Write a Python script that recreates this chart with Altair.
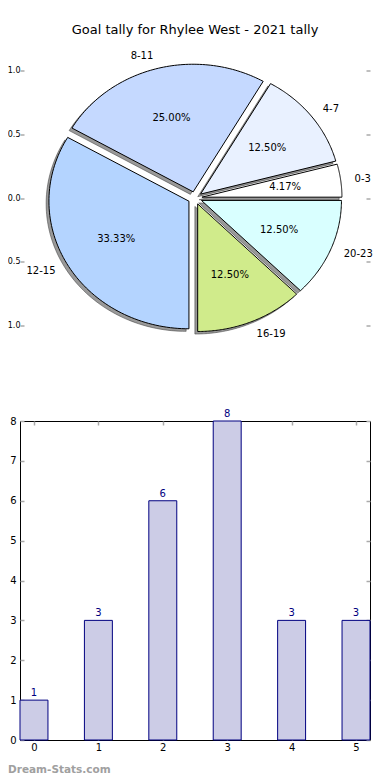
import altair as alt
import pandas as pd

# ---------------- data ----------------
ranges = ["0-3", "4-7", "8-11", "12-15", "16-19", "20-23"]
tally = [1, 3, 6, 8, 3, 3]
bar_x = [0, 1, 2, 3, 4, 5]
bar_y = [1, 3, 6, 8, 3, 3]
slice_colors = ["#ffffff", "#e9f1ff", "#c5d9ff", "#b4d4ff", "#d0eb8b", "#d9ffff"]
pie_ticks = [-1.0, -0.5, 0.0, 0.5, 1.0]
bar_yticks = [0, 1, 2, 3, 4, 5, 6, 7, 8]
chart_title = "Goal tally for Rhylee West - 2021 tally"
watermark = "Dream-Stats.com"

# ---------------- style constants ----------------
FONT = "DejaVu Sans"
EXPLODE = 0.05
SHADOW = 0.02
NPTS = 80
HALF_BAR = 0.217
W, H = 350, 319
TICK = "#aaaaaa"

pie_df = pd.DataFrame({"range": ranges, "count": tally, "idx": list(range(len(ranges)))})
bar_df = pd.DataFrame({"x": bar_x, "y": bar_y})

xs = alt.Scale(domain=[-1.25, 1.25], nice=False, zero=False)
ys = alt.Scale(domain=[-1.25, 1.25], nice=False, zero=False)
fill_scale = alt.Scale(domain=ranges, range=slice_colors)

base = (
    alt.Chart(pie_df)
    .transform_joinaggregate(total="sum(count)")
    .transform_window(cum="sum(count)", sort=[alt.SortField("idx")], frame=[None, 0])
    .transform_calculate(
        a0="2*PI*(datum.cum - datum.count)/datum.total",
        a1="2*PI*datum.cum/datum.total",
    )
    .transform_calculate(
        am="(datum.a0 + datum.a1)/2",
        pct="format(100*datum.count/datum.total, '.2f') + '%'",
    )
    .transform_calculate(
        ox=f"{EXPLODE}*cos(datum.am)",
        oy=f"{EXPLODE}*sin(datum.am)",
    )
)

outline = (
    base.transform_calculate(k=f"sequence(0, {NPTS + 2})")
    .transform_flatten(["k"])
    .transform_calculate(
        t=f"(datum.k - 1)/({NPTS} - 1)",
        edge=f"datum.k >= 1 && datum.k <= {NPTS} ? 1 : 0",
    )
    .transform_calculate(ang="datum.a0 + (datum.a1 - datum.a0)*datum.t")
    .transform_calculate(
        px="datum.ox + datum.edge*cos(datum.ang)",
        py="datum.oy + datum.edge*sin(datum.ang)",
        sx=f"datum.ox + datum.edge*cos(datum.ang) - {SHADOW}",
        sy=f"datum.oy + datum.edge*sin(datum.ang) - {SHADOW}",
    )
)

shadow = outline.mark_line(
    fill="#333333", fillOpacity=0.5, stroke="#333333", strokeOpacity=0.5,
    strokeWidth=1, interpolate="linear",
).encode(
    x=alt.X("sx:Q", scale=xs, axis=None),
    y=alt.Y("sy:Q", scale=ys, axis=alt.Axis(
        orient="right", values=pie_ticks, labels=False, ticks=True, tickSize=4,
        offset=-4, domain=False, grid=False, title=None, tickColor=TICK, tickWidth=1.5)),
    order="k:Q",
    detail="range:N",
)

wedges = outline.mark_line(stroke="black", strokeWidth=1, interpolate="linear").encode(
    x=alt.X("px:Q", scale=xs, axis=None),
    y=alt.Y("py:Q", scale=ys, axis=alt.Axis(
        orient="left", values=pie_ticks, labelExpr="format(abs(datum.value), '.1f')",
        tickSize=4, offset=-4, labelPadding=0, labelFontSize=8, labelColor="black",
        domain=False, grid=False, title=None, tickColor=TICK, tickWidth=1.5)),
    order="k:Q",
    detail="range:N",
    fill=alt.Fill("range:N", scale=fill_scale, legend=None),
)

pct_text = base.transform_calculate(
    tx="datum.ox + 0.6*cos(datum.am)", ty="datum.oy + 0.6*sin(datum.am)"
).mark_text(fontSize=10, font=FONT, color="black", align="center", baseline="middle").encode(
    x=alt.X("tx:Q", scale=xs, axis=None),
    y=alt.Y("ty:Q", scale=ys, axis=None),
    text="pct:N",
)

lbl = base.transform_calculate(
    lx="datum.ox + 1.1*cos(datum.am)", ly="datum.oy + 1.1*sin(datum.am)"
)
lbl_right = lbl.transform_filter("datum.lx > 0").mark_text(
    fontSize=10, font=FONT, color="black", align="left", baseline="middle"
).encode(x=alt.X("lx:Q", scale=xs, axis=None), y=alt.Y("ly:Q", scale=ys, axis=None), text="range:N")
lbl_left = lbl.transform_filter("datum.lx <= 0").mark_text(
    fontSize=10, font=FONT, color="black", align="right", baseline="middle"
).encode(x=alt.X("lx:Q", scale=xs, axis=None), y=alt.Y("ly:Q", scale=ys, axis=None), text="range:N")

pie = alt.layer(shadow, wedges, pct_text, lbl_right, lbl_left).resolve_axis(y="independent").properties(
    width=W, height=H,
    title=alt.TitleParams(chart_title, fontSize=13, font=FONT, fontWeight="normal",
                          color="black", anchor="middle", offset=1.5),
    view=alt.ViewBackground(stroke="transparent"),
)

# ---------------- bar chart ----------------
bx = alt.Scale(domain=[-HALF_BAR, 5 + HALF_BAR], nice=False, zero=False)
by = alt.Scale(domain=[0, 8], nice=False, zero=False)

bars = alt.Chart(bar_df).transform_calculate(
    x0=f"datum.x - {HALF_BAR}", x1=f"datum.x + {HALF_BAR}"
).mark_bar(fill="#cccce6", stroke="#000080", strokeWidth=1).encode(
    x=alt.X("x0:Q", scale=bx, axis=alt.Axis(
        orient="bottom", values=bar_x, format="d", tickSize=4, offset=-4, labelPadding=2,
        labelFontSize=10, labelColor="black", domain=False, grid=False, title=None,
        tickColor=TICK, tickWidth=1.5)),
    x2="x1:Q",
    y=alt.Y("y:Q", scale=by, axis=alt.Axis(
        orient="left", values=bar_yticks, format="d", tickSize=4, offset=-4, labelPadding=4,
        labelFontSize=10, labelColor="black", domain=False, grid=False, title=None,
        tickColor=TICK, tickWidth=1.5)),
    y2=alt.datum(0),
)

bar_text = alt.Chart(bar_df).mark_text(
    fontSize=10, font=FONT, color="#000080", baseline="alphabetic", dy=-4
).encode(
    x=alt.X("x:Q", scale=bx, axis=alt.Axis(
        orient="top", values=bar_x, labels=False, tickSize=4, offset=-4, domain=False,
        grid=False, title=None, tickColor=TICK, tickWidth=1.5)),
    y=alt.Y("y:Q", scale=by, axis=alt.Axis(
        orient="right", values=bar_yticks, labels=False, tickSize=4, offset=-4, domain=False,
        grid=False, title=None, tickColor=TICK, tickWidth=1.5)),
    text="y:Q",
)

bar = alt.layer(bars, bar_text).resolve_axis(x="independent", y="independent").properties(
    width=W, height=H,
    title=alt.TitleParams(watermark, orient="bottom", anchor="start", frame="group",
                          fontSize=10.5, font=FONT, fontWeight="bold", color="#a0a0a0",
                          dx=-12, offset=21, baseline="alphabetic"),
    view=alt.ViewBackground(stroke="black", strokeWidth=1),
)

chart = alt.vconcat(pie, bar, spacing=63.5, bounds="flush").properties(
    padding={"left": -2, "top": 15.5, "right": 0, "bottom": 0}
).configure(font=FONT).configure_axis(labelFont=FONT)

chart.save("out.html", embed_options={"renderer": "svg", "actions": False})
